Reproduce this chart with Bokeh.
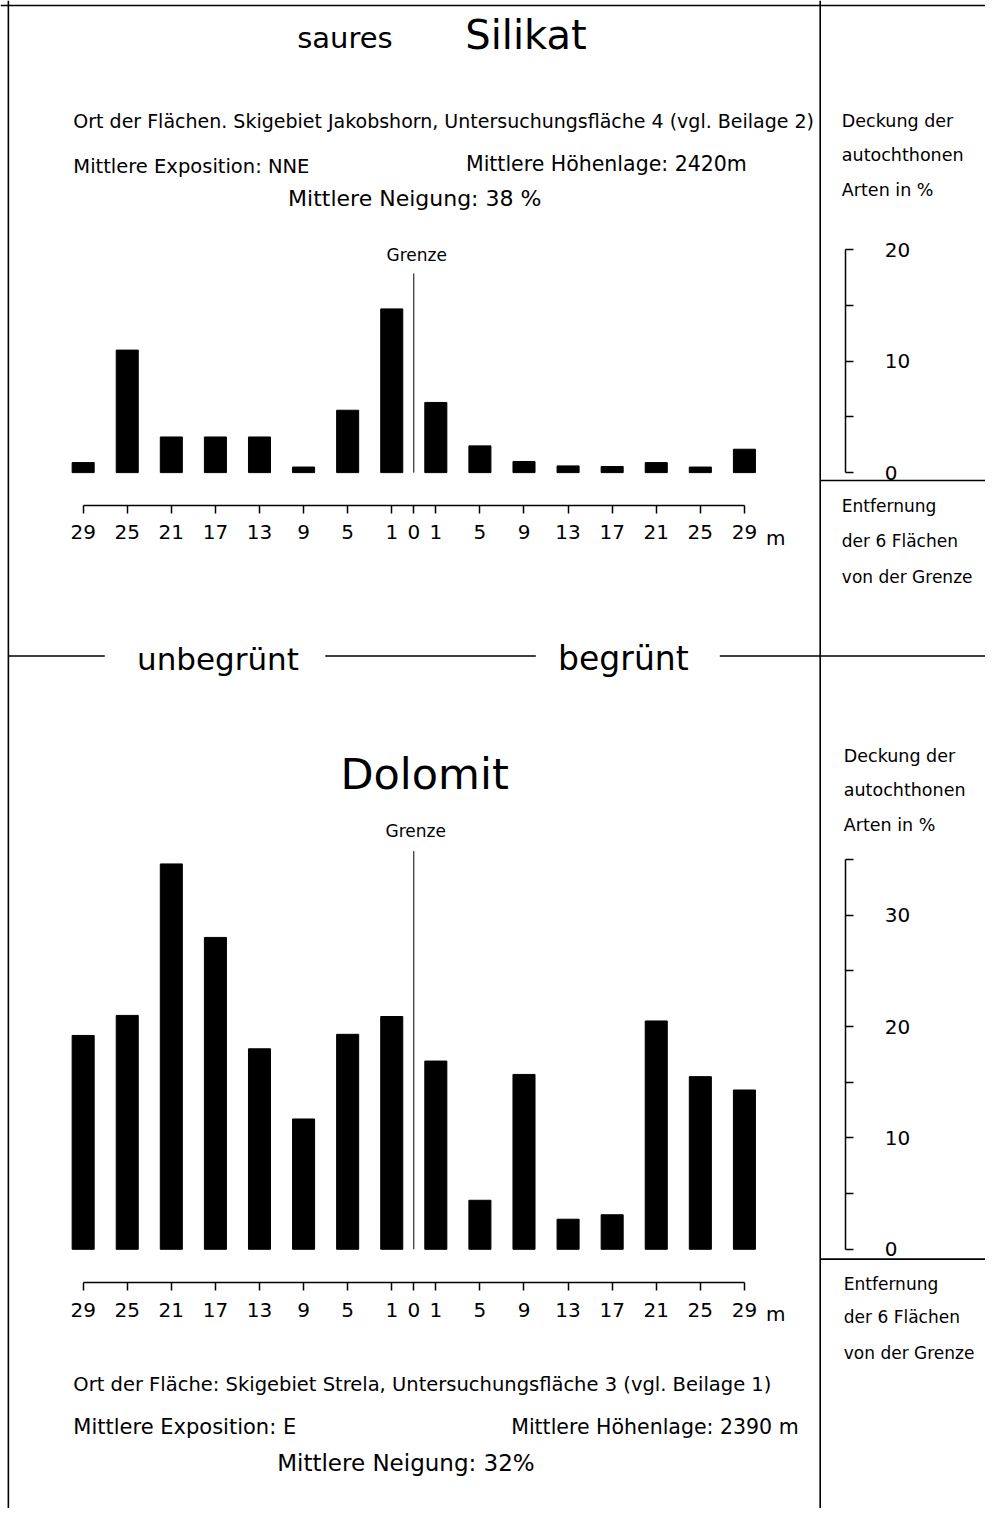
from bokeh.plotting import figure
from bokeh.models import Range1d, LinearAxis, FixedTicker, ColumnDataSource
from bokeh.core.properties import value
from bokeh.embed import file_html
from bokeh.resources import INLINE

# ---------------- data ----------------
# distance of the plots from the border (Grenze), in m
distances_m = [29, 25, 21, 17, 13, 9, 5, 1]
# cover of autochthonous species in %  (unbegrünt: d = 29 ... 1, begrünt: d = 1 ... 29)
silikat_unbegruent = [0.9, 11.0, 3.2, 3.2, 3.2, 0.5, 5.6, 14.7]
silikat_begruent = [6.3, 2.4, 1.0, 0.6, 0.55, 0.9, 0.5, 2.1]
dolomit_unbegruent = [19.2, 21.0, 34.6, 28.0, 18.0, 11.7, 19.3, 20.9]
dolomit_begruent = [16.9, 4.4, 15.7, 2.7, 3.1, 20.5, 15.5, 14.3]
silikat_scale_ticks = [0, 10, 20]
silikat_scale_minor = [5, 15]
dolomit_scale_ticks = [0, 10, 20, 30]
dolomit_scale_minor = [5, 15, 25, 35]

# ---------------- layout constants (sheet coordinates) ----------------
SW, SH = 1001, 1530           # sheet coordinate system
W, H = 985, 1508              # canvas size in pixels
X0, PX_M = 420, 11.2          # Grenze position, sheet px per m-unit
Y0_TOP, Y0_BOT, PX_PCT = 479, 1267, 11.3
FONT = value("DejaVu Sans")

p = figure(width=W, height=H, output_backend="svg", toolbar_location=None, tools="",
           x_range=Range1d(0, SW), y_range=Range1d(SH, 0),
           x_axis_location=None, y_axis_location=None, min_border=0,
           outline_line_color=None, background_fill_color="white", border_fill_color="white")
p.grid.grid_line_color = None

p.extra_x_ranges = {"dist": Range1d(-X0 / PX_M, (SW - X0) / PX_M)}
p.extra_y_ranges = {
    "top": Range1d(-(SH - Y0_TOP) / PX_PCT, Y0_TOP / PX_PCT),
    "bot": Range1d(-(SH - Y0_BOT) / PX_PCT, Y0_BOT / PX_PCT),
}

# positions on distance axis: left side (unbegrünt) negative, right side (begrünt) positive
u_left = [-(d + 1) for d in distances_m]
u_right = [d + 1 for d in reversed(distances_m)]
xs = u_left + u_right
tick_u = u_left + [0] + u_right
tick_labels = {u: str(abs(u) - 1) for u in u_left + u_right}
tick_labels[0] = "0"

# ---------------- bars ----------------
p.vbar(x=xs, top=silikat_unbegruent + silikat_begruent, bottom=0, width=2.0,
       fill_color="black", line_color="black", x_range_name="dist", y_range_name="top")
p.vbar(x=xs, top=dolomit_unbegruent + dolomit_begruent, bottom=0, width=2.0,
       fill_color="black", line_color="black", x_range_name="dist", y_range_name="bot")

# Grenze lines
p.segment(x0=[0, 0], y0=[277, 863], x1=[0, 0], y1=[Y0_TOP, Y0_BOT],
          line_color="black", line_width=1, x_range_name="dist")

# ---------------- axes ----------------
def dist_axis(loc):
    ax = LinearAxis(x_range_name="dist", fixed_location=loc,
                    ticker=FixedTicker(ticks=tick_u, minor_ticks=[]),
                    major_label_overrides=tick_labels, bounds=(min(tick_u), max(tick_u)),
                    major_tick_in=0, major_tick_out=8, minor_tick_out=0,
                    major_label_standoff=12,
                    axis_line_width=1.5, major_tick_line_width=1.5,
                    major_label_text_font_size="20px", major_label_text_font="DejaVu Sans",
                    major_label_text_color="black")
    p.add_layout(ax, "below")

dist_axis(512)
dist_axis(1301)

def pct_axis(rng, ticks, minor, loc):
    ax = LinearAxis(y_range_name=rng, fixed_location=loc,
                    ticker=FixedTicker(ticks=ticks, minor_ticks=minor),
                    bounds=(0, max(ticks + minor)),
                    major_tick_in=0, major_tick_out=8, minor_tick_in=0, minor_tick_out=8,
                    major_label_standoff=31,
                    axis_line_width=1.5, major_tick_line_width=1.5, minor_tick_line_width=1.5,
                    minor_tick_line_color="black",
                    major_label_text_font_size="20px", major_label_text_font="DejaVu Sans",
                    major_label_text_color="black")
    p.add_layout(ax, "right")

pct_axis("top", silikat_scale_ticks, silikat_scale_minor, 859)
pct_axis("bot", dolomit_scale_ticks, dolomit_scale_minor, 859)

# ---------------- frame lines ----------------
p.segment(x0=[0, 8, 833, 8, 330, 731, 833, 833],
          y0=[5, 0, 0, 665, 665, 665, 487, 1277],
          x1=[SW, 8, 833, 106, 544, SW, SW, SW],
          y1=[5, SH, SH, 665, 665, 665, 487, 1277],
          line_color="black", line_width=1.6)

# ---------------- texts ----------------
def texts(items, size, align="left"):
    src = ColumnDataSource(dict(x=[i[0] for i in items], y=[i[1] for i in items],
                                t=[i[2] for i in items]))
    p.text(x="x", y="y", text="t", source=src, text_font=FONT, text_font_size=size,
           text_align=align, text_baseline="middle", text_color="black")

texts([(350, 38, "saures")], "29px", "center")
texts([(534, 35, "Silikat")], "40px", "center")
texts([(431, 785, "Dolomit")], "43px", "center")
texts([(221, 668, "unbegrünt")], "31px", "center")
texts([(633, 668, "begrünt")], "33px", "center")
texts([(74, 122, "Ort der Flächen. Skigebiet Jakobshorn, Untersuchungsfläche 4 (vgl. Beilage 2)")], "19px")
texts([(74, 1404, "Ort der Fläche: Skigebiet Strela, Untersuchungsfläche 3 (vgl. Beilage 1)")], "19.5px")
texts([(74, 168, "Mittlere Exposition: NNE")], "19.5px")
texts([(473, 166, "Mittlere Höhenlage: 2420m")], "20.5px")
texts([(74, 1447, "Mittlere Exposition: E")], "21px")
texts([(519, 1447, "Mittlere Höhenlage: 2390 m")], "20.5px")
texts([(421, 201, "Mittlere Neigung: 38 %")], "22px", "center")
texts([(412, 1484, "Mittlere Neigung: 32%")], "23px", "center")
texts([(423, 258, "Grenze"), (422, 843, "Grenze")], "17px", "center")
texts([(855, 122, "Deckung der"), (855, 157, "autochthonen"), (855, 192, "Arten in %"),
       (857, 767, "Deckung der"), (857, 801, "autochthonen"), (857, 837, "Arten in %")], "17.5px")
texts([(855, 513, "Entfernung"), (855, 548, "der 6 Flächen"), (855, 585, "von der Grenze"),
       (857, 1302, "Entfernung"), (857, 1336, "der 6 Flächen"), (857, 1372, "von der Grenze")], "17px")
texts([(778, 545, "m"), (778, 1333, "m")], "20px")

open("out.html", "w").write(file_html(p, INLINE))
